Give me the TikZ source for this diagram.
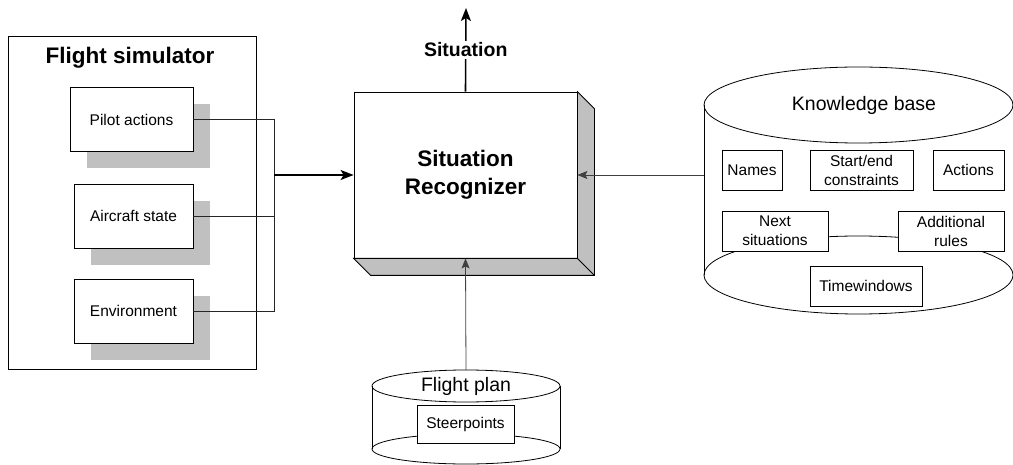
\documentclass[tikz,border=0pt]{standalone}
\usepackage{fontspec}
\setmainfont{Liberation Sans}
\usetikzlibrary{arrows.meta,shadows,positioning}
\definecolor{skyggegraa}{RGB}{192,192,192}
\tikzset{
    %Define standard arrow tip
    >={Stealth[length=10pt,width=8pt,inset=2pt]},
    %Define style for boxes
    modul/.style={
           rectangle,
           draw=black, line width=0.8pt,
           fill=white,
           minimum width=119pt,
           minimum height=64pt,
           font=\fontsize{15.5}{19}\selectfont,
           text centered,
           drop shadow={shadow xshift=17pt, shadow yshift=-17pt,
                        fill=skyggegraa, opacity=1}
           },
    kbboks/.style={
           rectangle,
           draw=black, line width=0.8pt,
           fill=white,
           minimum height=40pt,
           inner sep=2pt,
           align=center,
           font=\fontsize{15.5}{19}\selectfont
           },
    gjenkjenner/.style={
           rectangle,
           draw=black, line width=0.8pt,
           fill=white,
           minimum width=223pt,
           minimum height=166pt,
           align=center,
           font=\bfseries\fontsize{22.5}{28}\selectfont
           },
    tittel/.style={
           font=\bfseries\fontsize{22.5}{28}\selectfont},
    undertittel/.style={
           font=\fontsize{19.5}{23}\selectfont},
    omriss/.style={
           draw=black, line width=0.8pt},
    side/.style={
           fill=skyggegraa, draw=black, line width=0.8pt},
    % Define arrow style
    lenke/.style={
           ->,
           draw=black!75, line width=0.8pt},
    forbindelse/.style={
           draw=black!85, line width=0.8pt},
    hovedlenke/.style={
           -{Stealth[length=13pt,width=10pt,inset=3pt]},
           draw=black, line width=1.6pt}
}
\begin{document}
\begin{tikzpicture}[x=1pt,y=-1pt]
\useasboundingbox (0,0) rectangle (1013,465);

 %flight simulator
\draw[omriss] (8,36) rectangle (256,369);
\node[tittel] (fs) at (130,58) {Flight simulator};
\node[modul, minimum width=123pt] (pa) at (131.5,119.5) {Pilot actions};
\node[modul, below=32pt of pa, xshift=2pt] (as) {Aircraft state};
\node[modul, below=30pt of as] (env) {Environment};
\coordinate (samle) at (274,175);

 %situation recognizer
\node[gjenkjenner] (sr) at (465.5,175) {Situation\\Recognizer};
\path[side] (sr.north east) -- ++(17,17) |- ([shift={(17,17)}]sr.south west)
    -- (sr.south west) -- (sr.south east) -- cycle;
\draw[omriss] (sr.south east) -- ++(17,17);
\coordinate (ut) at (466,8);

 %knowledge base
\draw[omriss] (858.5,275) ellipse (154.5pt and 39pt);
\draw[omriss, fill=white] (858.5,105) ellipse (154.5pt and 38pt);
\draw[omriss] (704,105) -- (704,275);
\node[undertittel] (kb) at (864,105) {Knowledge base};
\node[kbboks, minimum width=60pt] (navn) at (752,170) {Names};
\node[kbboks, minimum width=103pt] (startslutt) at (861.5,170) {Start/end\\constraints};
\node[kbboks, minimum width=71pt] (handling) at (968.5,170) {Actions};
\node[kbboks, minimum width=106pt] (neste) at (775,231) {Next\\situations};
\node[kbboks, minimum width=106pt] (regler) at (951,231) {Additional\\rules};
\node[kbboks, minimum width=112pt] (tid) at (866,286) {Timewindows};
\coordinate (kbkant) at (704,175);

 %flight plan
\draw[omriss] (466,449) ellipse (94pt and 15pt);
\draw[omriss, fill=white] (466,386) ellipse (94pt and 16pt);
\draw[omriss] (372,386) -- (372,449) (560,386) -- (560,449);
\node[undertittel] (fp) at (466,386) {Flight plan};
\node[kbboks, minimum width=97pt, minimum height=38pt] (styre) at (465.5,424) {Steerpoints};
\coordinate (fptopp) at (466,370);

 %connections
\draw[forbindelse] (pa.east) -| (samle);
\draw[forbindelse] (as.east) -| (samle);
\draw[forbindelse] (env.east) -| (samle);
\draw[hovedlenke] (samle) -- (sr.west);
\draw[hovedlenke] (sr.north) -- node[fill=white, undertittel, font=\bfseries\fontsize{19.5}{23}\selectfont, inner sep=2pt] (sit) {Situation} (ut);
\draw[lenke] (kbkant) -- (sr.east);
\draw[lenke] (fptopp) -- (sr.south);

\end{tikzpicture}
\end{document}
